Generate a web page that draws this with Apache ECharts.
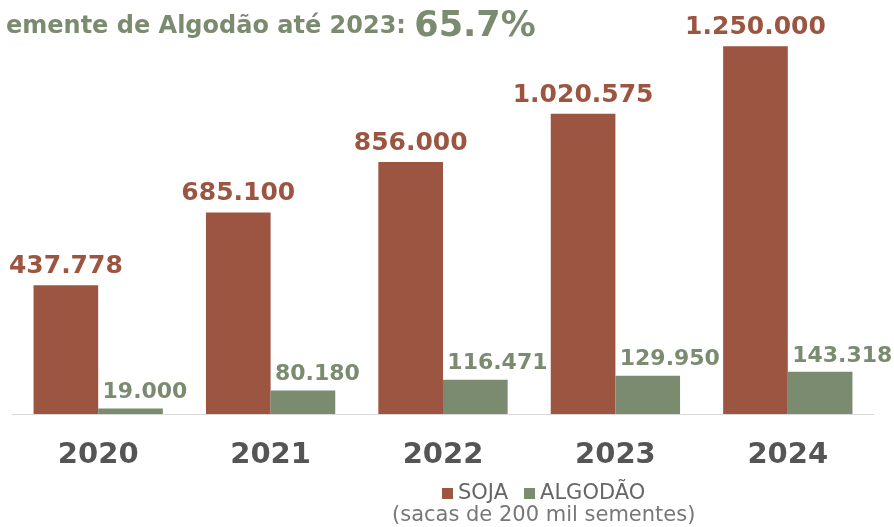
<!DOCTYPE html>
<html><head><meta charset="utf-8">
<script src="https://cdn.jsdelivr.net/npm/echarts@6/dist/echarts.min.js"></script>
<style>html,body{margin:0;padding:0;background:#fff}#c{width:894px;height:527px}</style>
</head><body><div id="c"></div>
<script>
const categories = ['2020','2021','2022','2023','2024'];
const soja = [437778, 685100, 856000, 1020575, 1250000];
const algodao = [19000, 80180, 116471, 129950, 143318];
const titleText = 'emente de Algodão até 2023: ';
const titleValue = '65.7%';
const subtitle = '(sacas de 200 mil sementes)';

const RED = '#9b5540', GREEN = '#7b8b70';
const fmt = v => v.toLocaleString('de-DE');
const FONT = '"DejaVu Sans", Verdana, sans-serif';

const chart = echarts.init(document.getElementById('c'));
chart.setOption({
  animation: false,
  title: {
    text: '{a|' + titleText + '}{b|' + titleValue + '}',
    left: 1, top: 4,
    textStyle: { rich: {
      a: { fontFamily: FONT, fontWeight: 'bold', fontSize: 24, color: GREEN },
      b: { fontFamily: FONT, fontWeight: 'bold', fontSize: 35, color: GREEN }
    }}
  },
  legend: {
    data: ['SOJA','ALGODÃO'],
    left: 437, top: 478, itemWidth: 11, itemHeight: 11, itemGap: 16,
    icon: 'rect',
    textStyle: { fontFamily: FONT, fontSize: 21, color: '#666' }
  },
  graphic: [{
    type: 'text', left: 392, top: 505,
    style: { text: subtitle, fontFamily: FONT, fontSize: 21, fill: '#777' }
  }],
  grid: { left: 12, right: 20, top: 2, bottom: 113 },
  xAxis: {
    type: 'category', data: categories,
    axisLine: { lineStyle: { color: '#d9d9d9' } },
    axisTick: { show: false },
    axisLabel: { fontFamily: FONT, fontWeight: 'bold', fontSize: 29, color: '#555', margin: 27 }
  },
  yAxis: { type: 'value', min: 0, max: 1400000, show: false, splitLine: { show: false } },
  series: [
    { name: 'SOJA', type: 'bar', data: soja, barGap: '0%', barCategoryGap: '25%',
      itemStyle: { color: RED },
      label: { show: true, position: 'top', distance: 6, formatter: p => fmt(p.value),
        fontFamily: FONT, fontWeight: 'bold', fontSize: 25, color: RED } },
    { name: 'ALGODÃO', type: 'bar', data: algodao,
      itemStyle: { color: GREEN },
      label: { show: true, position: 'top', distance: 5, align: 'left', offset: [-28, 0],
        formatter: p => fmt(p.value),
        fontFamily: FONT, fontWeight: 'bold', fontSize: 22, color: GREEN } }
  ]
});
</script></body></html>
